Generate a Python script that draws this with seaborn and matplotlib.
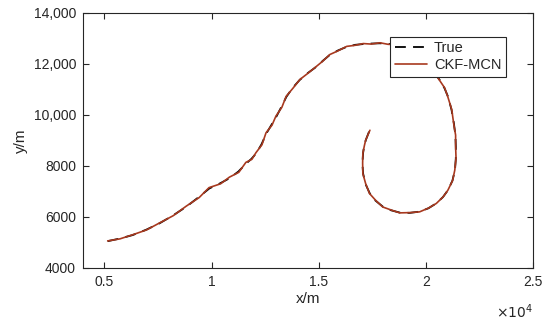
import matplotlib
matplotlib.use("Agg")
import matplotlib.pyplot as plt
import seaborn as sns
import pandas as pd

# True trajectory (m)
true_x = [5150, 5700, 6320, 6950, 7570, 8200, 8820, 9400, 9900, 10400, 10840, 11250,
          11620, 11860, 12090, 12330, 12560, 12800, 13020, 13260, 13490, 13780, 14110,
          14500, 14890, 15200, 15510, 15900, 16300, 16700, 17070, 17450, 17850, 18250,
          18600, 18950, 19300, 19620, 19900, 20150, 20350, 20650, 20870, 21040, 21200,
          21310, 21380, 21400, 21400, 21360, 21240, 21040, 20800, 20500, 20120, 19720,
          19250, 18790, 18380, 18000, 17650, 17380, 17180, 17070, 17040, 17070, 17120,
          17200, 17380]
true_y = [5050, 5150, 5290, 5500, 5750, 6060, 6400, 6780, 7120, 7320, 7520, 7780,
          8100, 8280, 8500, 8850, 9280, 9620, 9930, 10320, 10710, 11060, 11370,
          11650, 11890, 12130, 12350, 12530, 12670, 12750, 12780, 12800, 12810, 12790,
          12750, 12650, 12500, 12320, 12100, 11900, 11700, 11370, 11050, 10710, 10200,
          9670, 9200, 8760, 8300, 7840, 7420, 7060, 6780, 6540, 6340, 6210,
          6160, 6170, 6260, 6400, 6640, 6930, 7300, 7710, 8100, 8500, 8780,
          9020, 9410]
# CKF-MCN estimate (m)
est_x = [5150, 5720, 6310, 6960, 7560, 8210, 8810, 9420, 9880, 10420, 10830, 11270,
         11600, 11880, 12070, 12350, 12540, 12820, 13000, 13280, 13480, 13790, 14120,
         14490, 14900, 15190, 15520, 15890, 16310, 16690, 17080, 17440, 17860, 18240,
         18610, 18940, 19310, 19610, 19910, 20140, 20360, 20640, 20880, 21030, 21210,
         21300, 21390, 21390, 21410, 21350, 21250, 21030, 20810, 20490, 20130, 19710,
         19260, 18780, 18390, 17990, 17660, 17370, 17190, 17060, 17050, 17060, 17130,
         17190, 17390]
est_y = [5060, 5140, 5300, 5490, 5760, 6050, 6420, 6760, 7150, 7300, 7560, 7750,
         8140, 8260, 8520, 8830, 9300, 9600, 9950, 10300, 10730, 11040, 11390,
         11630, 11910, 12110, 12370, 12510, 12690, 12730, 12800, 12780, 12830, 12770,
         12760, 12640, 12510, 12310, 12110, 11890, 11710, 11360, 11060, 10700, 10210,
         9660, 9210, 8750, 8310, 7830, 7430, 7050, 6790, 6530, 6350, 6200,
         6170, 6160, 6270, 6390, 6650, 6920, 7310, 7700, 8110, 8490, 8790,
         9010, 9400]

x_ticks = [5000, 10000, 15000, 20000, 25000]
x_tick_labels = ["0.5", "1", "1.5", "2", "2.5"]
y_ticks = [4000, 6000, 8000, 10000, 12000, 14000]

sns.set_theme(style="white")
plt.rcParams['font.family'] = ['Liberation Sans', 'DejaVu Sans']

fig = plt.figure(figsize=(5.5, 3.24), dpi=100)
ax = fig.add_axes([0.151, 0.173, 0.818, 0.787])

df_true = pd.DataFrame({"x": true_x, "y": true_y})
df_est = pd.DataFrame({"x": est_x, "y": est_y})

sns.lineplot(data=df_true, x="x", y="y", sort=False, estimator=None, ax=ax,
             color="black", linestyle=(0, (6, 4)), linewidth=1.3, label="True")
sns.lineplot(data=df_est, x="x", y="y", sort=False, estimator=None, ax=ax,
             color="#a8391f", linewidth=1.2, label="CKF-MCN")

ax.set_xlim(4000, 25000)
ax.set_ylim(4000, 14000)
ax.set_xticks(x_ticks)
ax.set_yticks(y_ticks)
ax.set_xticklabels(x_tick_labels)
ax.set_yticklabels([f"{v:,}" if v >= 10000 else str(v) for v in y_ticks])
ax.tick_params(direction="in", length=4, width=0.8, colors="#262626",
               labelsize=10, top=True, right=True, bottom=True, left=True, pad=5)
for sp in ax.spines.values():
    sp.set_color("#262626")
    sp.set_linewidth(0.8)
ax.set_xlabel("x/m", fontsize=11, color="#262626", labelpad=2)
ax.set_ylabel("y/m", fontsize=11, color="#262626", labelpad=4)
ax.text(1.0, -0.135, r"$\times10^4$", transform=ax.transAxes, ha="right", va="top",
        fontsize=10, color="#262626")

leg = ax.legend(loc="upper right", bbox_to_anchor=(0.94, 0.906), fontsize=10.5,
                frameon=True, fancybox=False, handlelength=2.2, borderpad=0.3,
                labelspacing=0.2, handletextpad=0.5, borderaxespad=0, framealpha=1)
leg.get_frame().set_edgecolor("#262626")
leg.get_frame().set_linewidth(0.8)

fig.savefig("out.png", dpi=100)
